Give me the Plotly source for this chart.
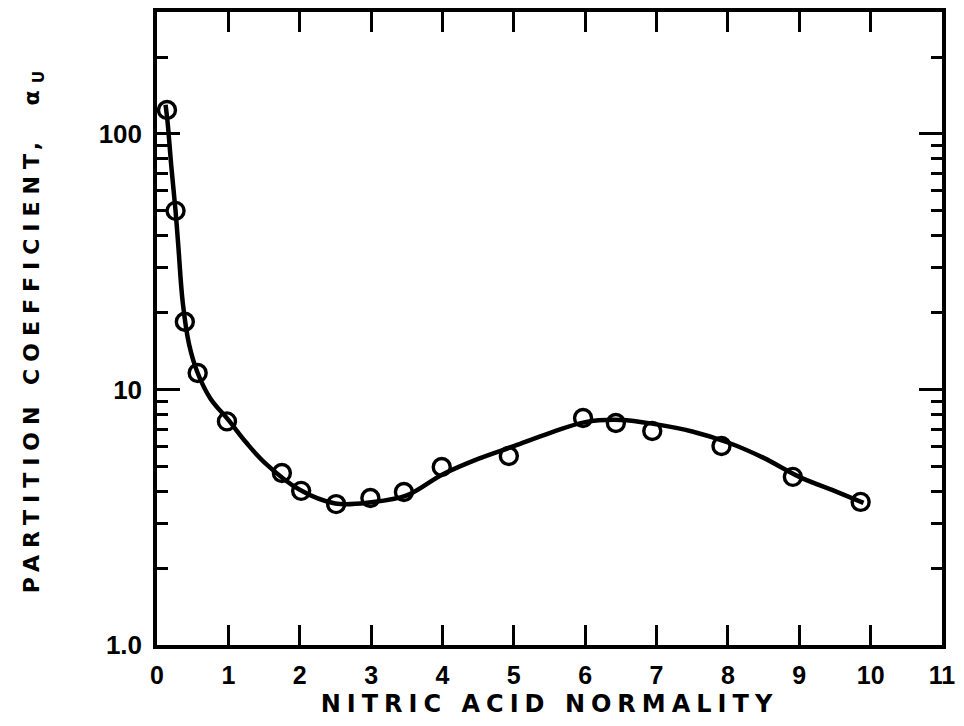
import plotly.graph_objects as go
import math

# Measured data points (nitric acid normality, partition coefficient)
normality = [0.14, 0.26, 0.39, 0.57, 0.98, 1.75, 2.02, 2.51, 2.99, 3.46, 3.99, 4.93, 5.97, 6.43, 6.94, 7.91, 8.91, 9.86]
partition = [124, 50, 18.4, 11.6, 7.5, 4.71, 4.01, 3.56, 3.76, 3.97, 4.97, 5.49, 7.73, 7.39, 6.88, 6.01, 4.55, 3.63]

# Smooth fitted curve
curve_x = [0.12, 0.15, 0.2, 0.26, 0.3, 0.36, 0.45, 0.57, 0.75, 1.0, 1.25, 1.5, 2.0, 2.5, 3.0, 3.5, 4.0, 4.5, 5.0, 5.5, 6.0, 6.5, 7.0, 7.5, 8.0, 8.5, 9.0, 9.5, 9.9]
curve_y = [130, 110, 75, 50, 36, 22, 15, 11.6, 9.2, 7.6, 6.2, 5.2, 4.05, 3.58, 3.62, 3.85, 4.65, 5.35, 6.0, 6.75, 7.45, 7.6, 7.3, 6.85, 6.2, 5.4, 4.55, 4.0, 3.6]

x_ticks = list(range(0, 12))
y_tickvals = [1, 10, 100]
y_ticktext = ["1.0", "10", "100"]
y_minor_vals = [2, 3, 4, 5, 6, 7, 8, 9, 20, 30, 40, 50, 60, 70, 80, 90, 200, 300]

x_title = "NITRIC ACID NORMALITY"
y_title = "PARTITION COEFFICIENT,  α<sub>U</sub>"

font_family = "DejaVu Sans"
tick_family = "Liberation Sans"
y_range = [0, math.log10(300)]

fig = go.Figure()
fig.add_trace(go.Scatter(
    x=curve_x, y=curve_y, mode="lines", yaxis="y2",
    line=dict(color="black", width=4.5, shape="spline", smoothing=1.0),
    hoverinfo="skip", showlegend=False,
))
fig.add_trace(go.Scatter(
    x=normality, y=partition, mode="markers",
    marker=dict(symbol="circle", size=17, color="white",
                line=dict(color="black", width=3.4)),
    showlegend=False,
))

fig.update_layout(
    width=948, height=710,
    margin=dict(l=149, r=14, t=4, b=73),
    paper_bgcolor="white", plot_bgcolor="white",
    font=dict(family=font_family, color="black"),
    xaxis=dict(
        range=[0, 11.0001], automargin=False,
        tickvals=x_ticks, ticktext=[str(v) for v in x_ticks],
        ticks="inside", ticklen=20, tickwidth=3, tickcolor="black",
        showline=True, linewidth=3.5, linecolor="black", mirror="ticks",
        showgrid=False, zeroline=False, ticklabeloverflow="allow",
        ticklabelstandoff=5,
        tickfont=dict(family=tick_family, size=25, color="black", weight="bold"),
        title=dict(text='<span style="letter-spacing:6px">' + x_title + '</span>', standoff=8,
                   font=dict(family=font_family, size=24, color="black", weight="bold")),
    ),
    yaxis=dict(
        type="log", range=y_range, automargin=False,
        tickvals=y_tickvals, ticktext=y_ticktext,
        ticks="inside", ticklen=23, tickwidth=3, tickcolor="black",
        showline=True, linewidth=3.5, linecolor="black", mirror="ticks",
        showgrid=False, zeroline=False, ticklabelstandoff=6,
        tickfont=dict(family=tick_family, size=26, color="black", weight="bold"),
        title=dict(text='<span style="letter-spacing:7px">' + y_title + '</span>', standoff=54,
                   font=dict(family=font_family, size=22, color="black", weight="bold")),
    ),
    yaxis2=dict(
        type="log", range=y_range, overlaying="y", side="left", automargin=False,
        tickvals=y_minor_vals, showticklabels=False,
        ticks="inside", ticklen=11, tickwidth=2.5, tickcolor="black",
        showline=False, mirror="ticks", showgrid=False, zeroline=False,
    ),
)

fig.write_html("out.html")
